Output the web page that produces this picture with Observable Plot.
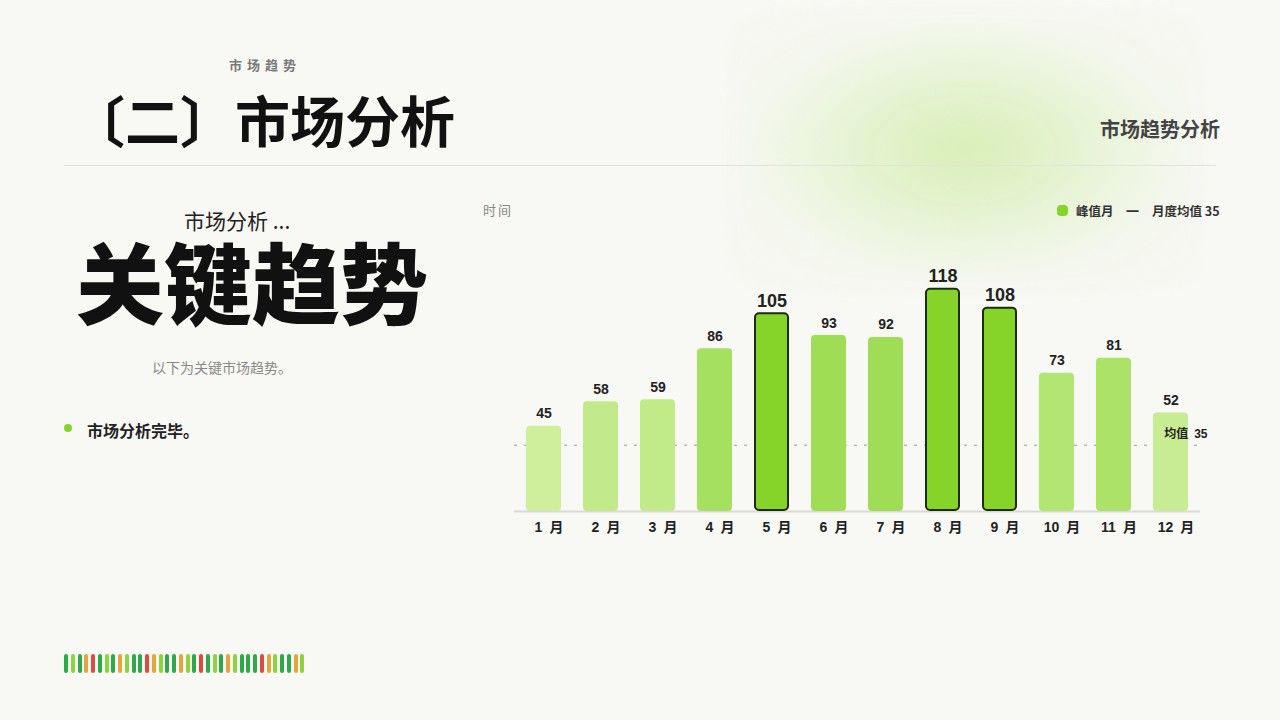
<!DOCTYPE html>
<html>
<head>
<meta charset="utf-8">
<script src="https://cdn.jsdelivr.net/npm/d3@7"></script>
<script src="https://cdn.jsdelivr.net/npm/@observablehq/plot@0.6"></script>
<style>
  html, body { margin: 0; padding: 0; }
  body {
    width: 1280px; height: 720px; position: relative; overflow: hidden;
    background: #f8f8f4;
    font-family: "Noto Sans CJK SC", "Noto Sans", sans-serif;
  }
  .abs { position: absolute; white-space: nowrap; }
  #blob {
    position: absolute; left: 735px; top: 15px; width: 460px; height: 270px;
    background: radial-gradient(ellipse at center, rgba(214,238,180,0.95) 0%, rgba(222,241,196,0.7) 35%, rgba(236,245,224,0.35) 65%, rgba(248,248,244,0) 100%);
    filter: blur(8px);
  }
  #chart { position: absolute; left: 470px; top: 190px; }
  #stripes { position: absolute; left: 64px; top: 654px; display: flex; gap: 2.75px; }
  #stripes span { display: block; width: 4px; height: 19px; border-radius: 2px; }
</style>
</head>
<body>
<div id="blob"></div>

<div class="abs" style="left:229px; top:56px; font-size:13px; font-weight:700; color:#7a7a7a; letter-spacing:5px; line-height:18px;">市场趋势</div>
<div class="abs" style="left:70px; top:89px; font-size:55px; font-weight:700; color:#111; line-height:58px;">〔二〕市场分析</div>
<div class="abs" style="right:60px; top:117px; font-size:20px; font-weight:700; color:#444; line-height:24px;">市场趋势分析</div>
<div class="abs" style="left:64px; top:165px; width:1152px; height:1px; background:#e2e3de;"></div>

<div class="abs" style="left:184px; top:209px; font-size:21px; font-weight:400; color:#222; line-height:22px;">市场分析 ...</div>
<div class="abs" style="left:76px; top:235px; font-size:88px; font-weight:900; color:#111; line-height:88px;">关键趋势</div>
<div class="abs" style="left:152px; top:358px; font-size:14px; color:#8a8a8a; line-height:18px;">以下为关键市场趋势。</div>
<div class="abs" style="left:64px; top:424px; width:8px; height:8px; border-radius:50%; background:#86d42a;"></div>
<div class="abs" style="left:87px; top:419px; font-size:16px; font-weight:700; color:#222; line-height:22px;">市场分析完毕。</div>

<div class="abs" style="left:483px; top:202px; font-size:13px; color:#888; letter-spacing:2px; line-height:16px;">时间</div>
<div class="abs" style="left:1057px; top:205px; width:11px; height:11px; border-radius:4px; background:#86d42a;"></div>
<div class="abs" style="left:1076px; top:202px; font-size:12.5px; font-weight:700; color:#333; line-height:17px;">峰值月</div>
<div class="abs" style="left:1126px; top:202px; font-size:13px; font-weight:700; color:#333; line-height:17px;">一</div>
<div class="abs" style="left:1152px; top:202px; font-size:12.5px; font-weight:700; color:#333; line-height:17px;">月度均值 35</div>

<div id="chart"></div>
<div id="stripes"></div>

<script>
const months = ["1 月","2 月","3 月","4 月","5 月","6 月","7 月","8 月","9 月","10 月","11 月","12 月"];
const values = [45, 58, 59, 86, 105, 93, 92, 118, 108, 73, 81, 52];
const peakMonths = ["5 月","8 月","9 月"];
const meanValue = 35;
const stripeColors = ["dg","lg","dg","or","rd","dg","lg","dg","or","lg","dg","dg","rd","or","lg","dg","dg","or",
                      "lg","dg","rd","dg","lg","dg","or","lg","dg","dg","dg","rd","or","lg","dg","dg","or","lg"];

const palette = {dg: "#2fa84a", lg: "#8cd43c", or: "#e8a33c", rd: "#df4a3e"};
const stripes = document.getElementById("stripes");
stripeColors.forEach(c => {
  const s = document.createElement("span");
  s.style.background = palette[c];
  stripes.appendChild(s);
});

const data = months.map((m, i) => ({month: m, value: values[i], peak: peakMonths.includes(m)}));
const normal = data.filter(d => !d.peak);
const peaks = data.filter(d => d.peak);

const font = "'Liberation Sans', 'Noto Sans CJK SC', sans-serif";

const chart = Plot.plot({
  width: 760,
  height: 360,
  marginLeft: 44,
  marginRight: 30,
  marginTop: 75,
  marginBottom: 39,
  style: {background: "transparent", fontFamily: font, overflow: "visible"},
  x: {domain: months, paddingInner: 0.39, paddingOuter: 0.2, label: null},
  y: {domain: [0, 130], axis: null},
  color: {type: "linear", domain: [45, 93], range: ["#cfef9d", "#9fdd55"]},
  marks: [
    Plot.ruleY([meanValue], {stroke: "#9a9a9a", strokeWidth: 1.2, strokeDasharray: "3,7"}),
    Plot.ruleY([0], {stroke: "#d9d9d6", strokeWidth: 2}),
    Plot.barY(normal, {x: "month", y: "value", fill: "value", rx: 4}),
    Plot.barY(peaks, {x: "month", y: "value", fill: "#86d42a", stroke: "#1d2b12", strokeWidth: 2, rx: 4, inset: 1}),
    Plot.text(normal, {x: "month", y: "value", text: d => String(d.value), lineAnchor: "bottom", dy: -8,
      fontSize: 14, fontWeight: 700, fill: "#222"}),
    Plot.text(peaks, {x: "month", y: "value", text: d => String(d.value), lineAnchor: "bottom", dy: -6,
      fontSize: 18, fontWeight: 700, fill: "#222"}),
    Plot.text([meanValue], {y: d => d, frameAnchor: "right", text: d => "均值\u2002" + d, textAnchor: "end",
      dx: 7, dy: -11, fontSize: 12, fontWeight: 700, fill: "#222"}),
    Plot.axisX({tickSize: 0, tickPadding: 11, dx: 5, fontSize: 14, fontWeight: 700, fill: "#222", label: null,
      tickFormat: d => d.replace(" ", "\u2002")})
  ]
});
document.getElementById("chart").appendChild(chart);
</script>
</body>
</html>
